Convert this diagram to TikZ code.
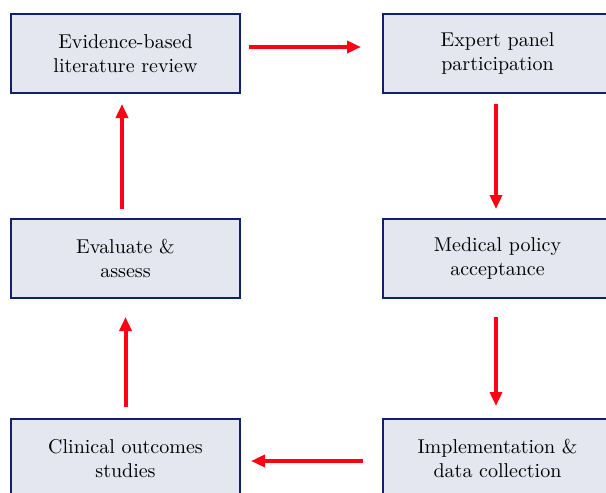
\documentclass[tikz,border=0pt]{standalone}
\usepackage{xcolor}
\usepackage{tikz}
\usetikzlibrary{arrows.meta,positioning}
\definecolor{navyline}{RGB}{16,34,107}
\definecolor{boxfill}{RGB}{228,231,239}
\definecolor{flowred}{RGB}{255,0,20}

\begin{document}
\begin{tikzpicture}[
    x=0.5pt, y=-0.5pt,
    stage/.style={rectangle, draw=navyline, fill=boxfill, line width=1pt, minimum width=114.5pt, minimum height=39.5pt, align=center, font=\normalsize, inner sep=0pt},
    arrow/.style={-{Triangle[length=7pt,width=6pt]}, line width=2pt, draw=flowred},
]
    \clip (0,0) rectangle (606,493);

    % Left column
    \node[stage] (review) at (125.5, 53.5) {Evidence-based\\literature review};
    \node[stage] (assess) at (125.5, 258.5) {Evaluate \&\\assess};
    \node[stage] (clinical) at (125.5, 458.5) {Clinical outcomes\\studies};

    % Right column
    \node[stage] (panel) at (497.5, 53.5) {Expert panel\\participation};
    \node[stage] (policy) at (497.5, 258.5) {Medical policy\\acceptance};
    \node[stage] (implement) at (497.5, 458.5) {Implementation \&\\data collection};

    % Arrows
    \draw[arrow, shorten <=4pt, shorten >=10.5pt] ([yshift=3.25pt]review.east) -- ([yshift=3.25pt]panel.west);
    \draw[arrow, shorten <=5pt, shorten >=4.5pt] ([xshift=-0.75pt]panel.south) -- ([xshift=-0.75pt]policy.north);
    \draw[arrow, shorten <=9pt, shorten >=6pt] ([xshift=-0.75pt]policy.south) -- ([xshift=-0.75pt]implement.north);
    \draw[arrow, shorten <=9.5pt, shorten >=5pt] ([yshift=-1.25pt]implement.west) -- ([yshift=-1.25pt]clinical.east);
    \draw[arrow, shorten <=5.5pt, shorten >=9pt] (clinical.north) -- (assess.south);
    \draw[arrow, shorten <=4.5pt, shorten >=5pt] ([xshift=-1.75pt]assess.north) -- ([xshift=-1.75pt]review.south);
\end{tikzpicture}
\end{document}
